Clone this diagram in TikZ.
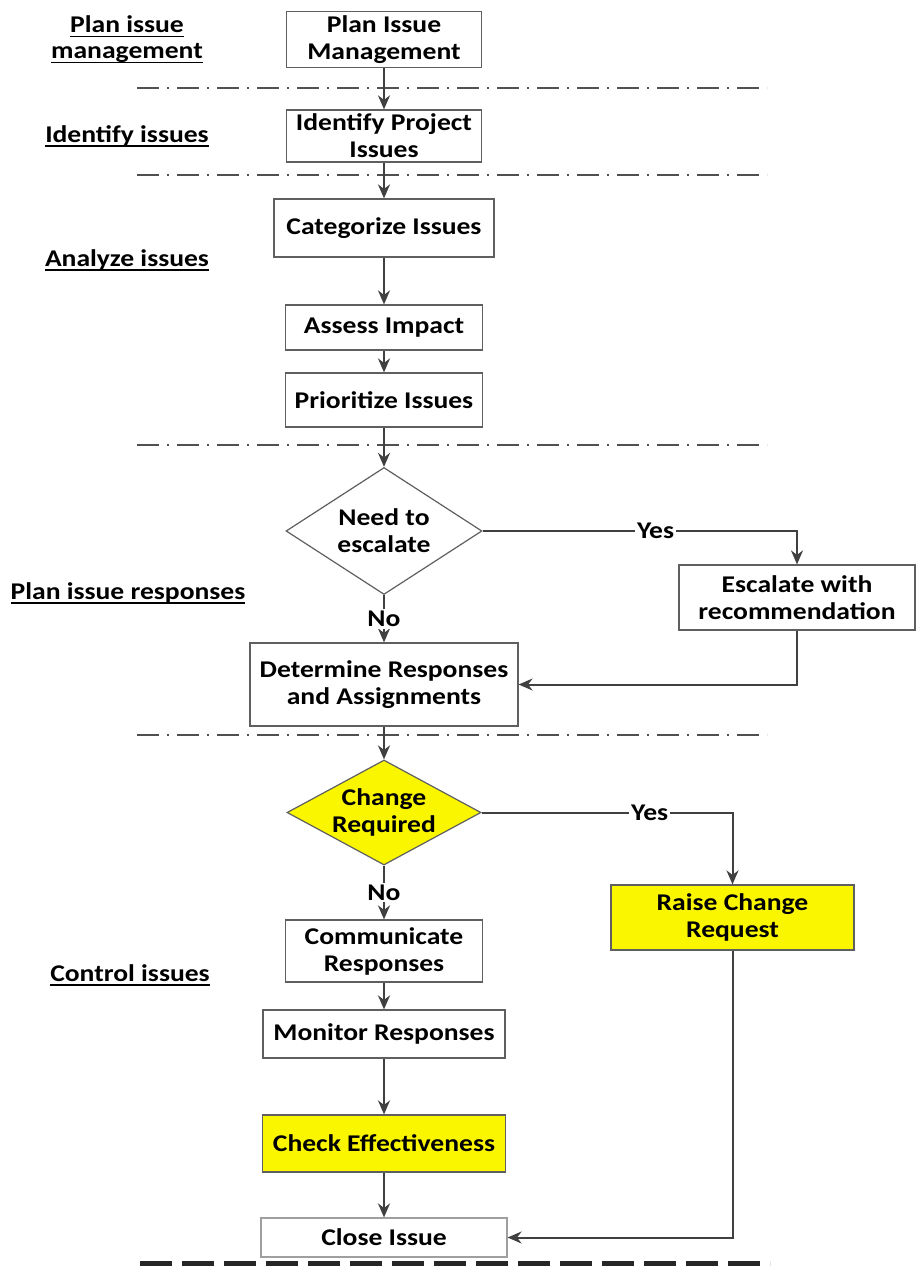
\documentclass[tikz,border=0pt]{standalone}
\usepackage{fontspec}
\setmainfont{Carlito}[FakeStretch=1.15]
\usetikzlibrary{shapes.geometric,arrows.meta}
\definecolor{hl}{RGB}{250,246,0}
\definecolor{edgec}{RGB}{64,64,64}
\definecolor{bord}{RGB}{95,95,95}
\definecolor{sepc}{RGB}{80,80,80}
\newcommand\myul[1]{\setbox0\hbox{#1}\rlap{\rule[-2.2pt]{\wd0}{0.6pt}}\box0}
\begin{document}
\begin{tikzpicture}[x=0.5pt,y=-0.5pt,
  font=\fontsize{12}{13.5}\selectfont\bfseries,
  box/.style={draw=bord, line width=0.6pt, fill=white, align=center, inner sep=2pt},
  hlbox/.style={box, fill=hl},
  dia/.style={diamond, draw=bord, line width=0.6pt, fill=white, align=center, inner sep=0pt},
  hldia/.style={dia, fill=hl},
  flow/.style={draw=edgec, line width=1pt, -{Stealth[length=7pt,width=6pt]}},
  sepline/.style={draw=sepc, line width=1pt, dash pattern=on 11pt off 4pt on 1pt off 4pt},
  sepheavy/.style={draw=black!85, line width=2.5pt, dash pattern=on 16pt off 5pt},
  lane/.style={align=center, inner sep=1pt, font=\fontsize{12}{13}\selectfont\bfseries},
  lbl/.style={fill=white, inner sep=1pt}]
\useasboundingbox (0,0) rectangle (916,1274);

% separators
\draw[sepline] (137,88) -- (767,88);
\draw[sepline] (137,175) -- (767,175);
\draw[sepline] (137,445) -- (767,445);
\draw[sepline] (137,735) -- (767,735);
\draw[sepheavy] (140,1263) -- (770,1263);

% lane labels
\node[lane] (l1) at (127,39.5) {\myul{Plan issue}\\\myul{management}};
\node[lane] (l2) at (127,136) {\myul{Identify issues}};
\node[lane] (l3) at (127,260) {\myul{Analyze issues}};
\node[lane] (l4) at (128,593) {\myul{Plan issue responses}};
\node[lane] (l5) at (130,975) {\myul{Control issues}};

% nodes
\node[box, minimum width=97.5pt, minimum height=27.5pt] (pim) at (384,39.5) {Plan Issue\\Management};
\node[box, minimum width=97.5pt, minimum height=26pt] (ipi) at (384,136) {Identify Project\\Issues};
\node[box, minimum width=110pt, minimum height=29pt] (cat) at (384,228) {Categorize Issues};
\node[box, minimum width=98.5pt, minimum height=22.5pt] (ass) at (384,327.5) {Assess Impact};
\node[box, minimum width=98.5pt, minimum height=27pt] (pri) at (384,400) {Prioritize Issues};
\node[dia, shape aspect=1.6, minimum width=98pt, minimum height=63.5pt] (esc) at (384,531) {Need to\\escalate};
\node[box, minimum width=118pt, minimum height=32.5pt] (erc) at (797,597.5) {Escalate with\\recommendation};
\node[box, minimum width=134pt, minimum height=41.5pt] (drs) at (384,684.5) {Determine Responses\\and Assignments};
\node[hldia, shape aspect=1.85, minimum width=97pt, minimum height=52.5pt] (chg) at (384,812.5) {Change\\Required};
\node[hlbox, minimum width=121.5pt, minimum height=32.5pt] (rcr) at (732.5,917.5) {Raise Change\\Request};
\node[box, minimum width=98.5pt, minimum height=31pt] (com) at (384,951) {Communicate\\Responses};
\node[box, minimum width=121pt, minimum height=24pt] (mon) at (384,1034) {Monitor Responses};
\node[hlbox, minimum width=121.5pt, minimum height=28.5pt] (chk) at (384,1143.5) {Check Effectiveness};
\node[box, draw=bord!60, minimum width=123pt, minimum height=19.5pt] (cls) at (384,1237.5) {Close Issue};

% connectors
\draw[flow] (pim) -- (ipi);
\draw[flow] (ipi) -- (cat);
\draw[flow] (cat) -- (ass);
\draw[flow] (ass) -- (pri);
\draw[flow] (pri) -- (esc);
\draw[flow] (esc.east) -- node[lbl, pos=0.55] {Yes} (esc.east -| erc.north) -- (erc.north);
\draw[flow] (esc.south) -- node[lbl] {No} (drs.north);
\draw[flow] (erc.south) |- (drs.east);
\draw[flow] (drs) -- (chg);
\draw[flow] (chg.east) -- node[lbl, pos=0.67] {Yes} (chg.east -| rcr.north) -- (rcr.north);
\draw[flow] (chg.south) -- node[lbl] {No} (com.north);
\draw[flow] (com) -- (mon);
\draw[flow] (mon) -- (chk);
\draw[flow] (chk) -- (cls);
\draw[flow] (rcr.south) |- (cls.east);
\end{tikzpicture}
\end{document}
